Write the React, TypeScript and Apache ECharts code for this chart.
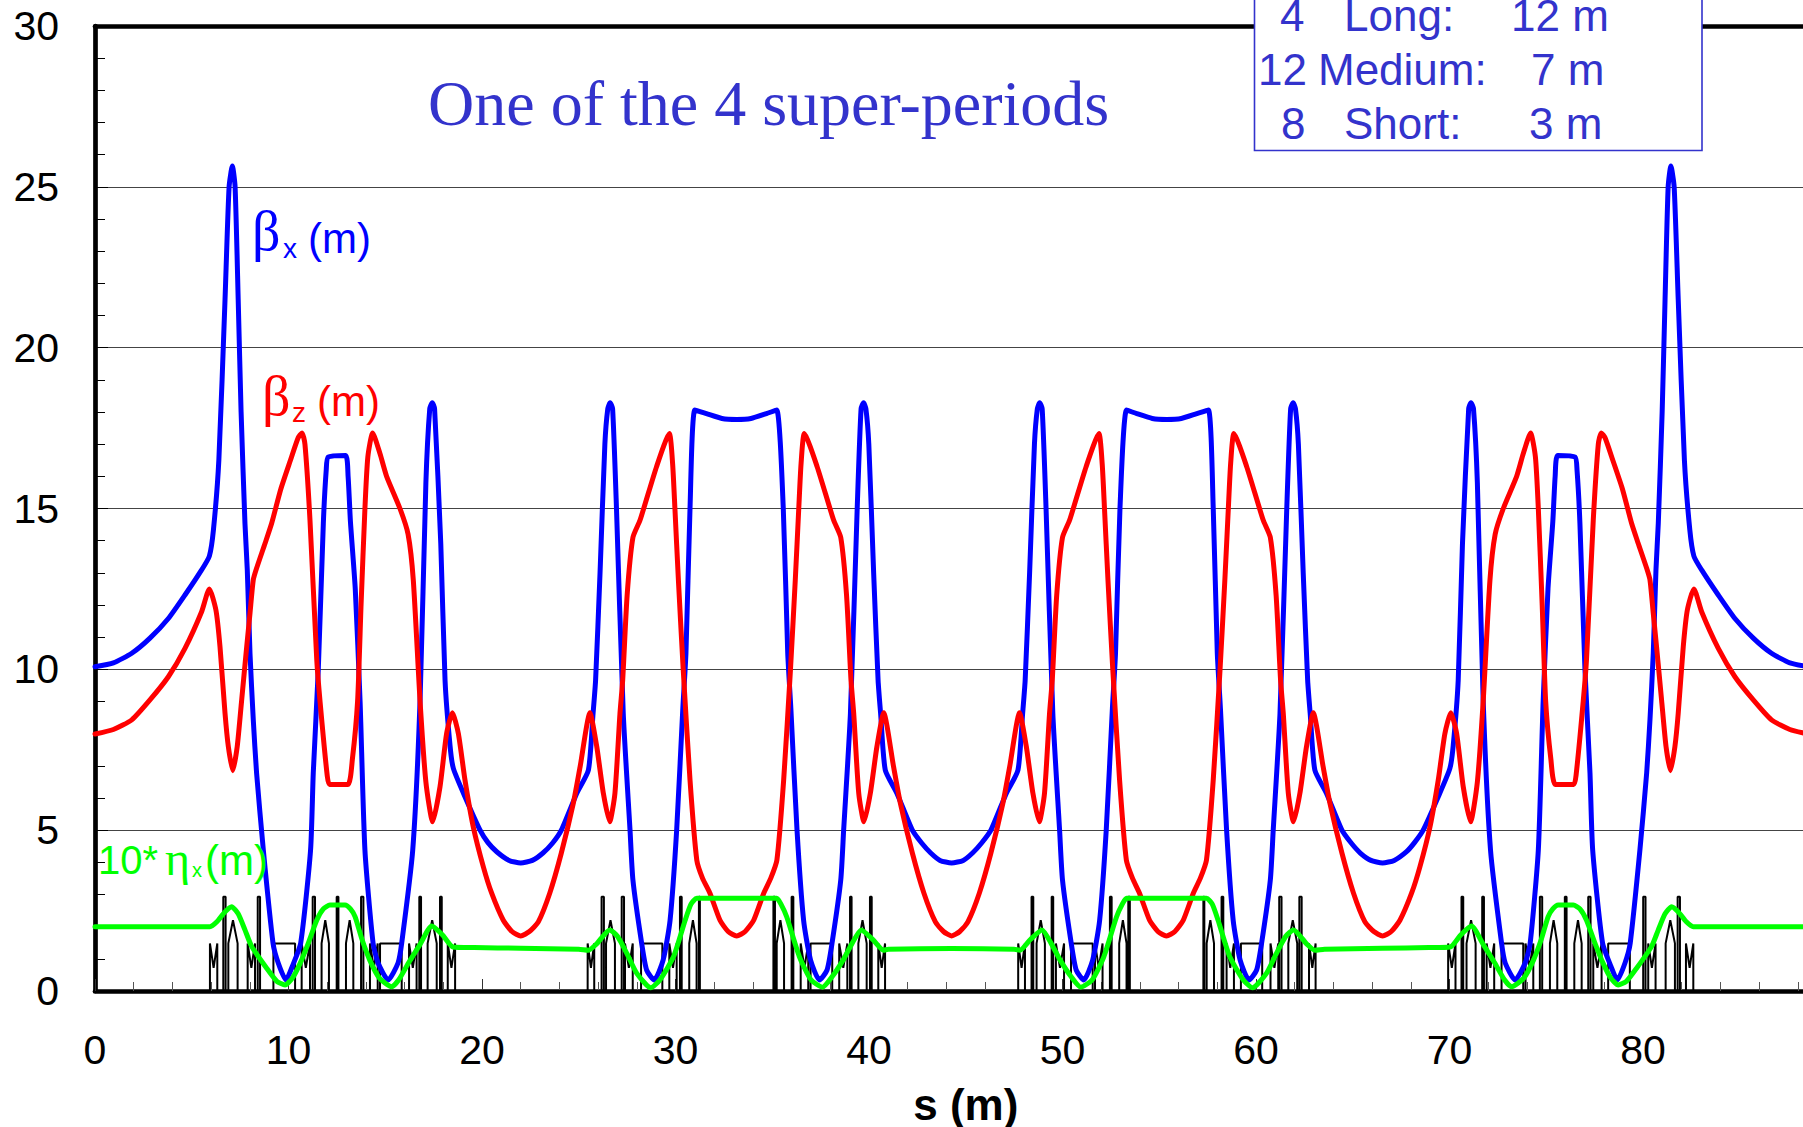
import React, { useEffect, useRef } from "react";
import * as echarts from "echarts";

const xTickStep = 10;
const yTickStep = 5;

const betaX: number[][] = [
  [0,10.08],[0.95,10.2],[1.9,10.5],[2.84,10.97],[3.79,11.58],[4.65,12.31],[5.51,13.09],[5.91,13.52],[6.12,14.33],[6.4,16.5],[6.72,21.5],[6.93,25],[7.1,25.65],[7.24,25],[7.4,21.5],[7.55,18],[7.75,14.54],[7.87,13.09],[8.01,10.5],[8.18,8.43],[8.35,6.78],[8.7,4.38],[9.2,1.49],[9.47,0.87],[9.87,0.34],[10.2,0.77],[10.63,1.49],[11.14,4.38],[11.28,6.78],[11.54,10],[11.8,14.54],[11.95,16.2],[12.05,16.6],[12.95,16.65],[13.08,16],[13.2,14.6],[13.45,12.5],[13.7,9],[13.95,4.38],[14.37,1.49],[14.63,0.87],[15.15,0.34],[15.66,0.87],[15.85,1.49],[16.42,4.38],[16.8,9.04],[17.1,15.8],[17.3,18.1],[17.43,18.29],[17.55,18.1],[17.87,13.9],[18.09,9.66],[18.35,7.62],[18.52,6.92],[19.12,6.04],[19.9,5],[20.3,4.62],[20.76,4.33],[21.4,4.06],[22,3.98],
  [22.6,4.06],[23.15,4.29],[23.65,4.6],[24.1,5],[24.9,6.15],[25.5,6.87],[25.74,8.63],[25.87,9.66],[26.1,13],[26.35,17],[26.5,18.1],[26.62,18.29],[26.75,18.1],[26.95,15],[27.3,8.63],[27.65,5],[27.8,3.45],[28.25,1.49],[28.51,0.65],[28.9,0.34],[29.36,0.96],[29.72,2.2],[30.06,5],[30.38,8.8],[30.54,10.5],[30.75,15],[31,18.06],[31.6,17.95],[32.4,17.8],[33.16,17.77],[33.9,17.8],[34.7,17.95],[35.23,18.06],[35.57,15],[35.8,10.5],[35.96,8.8],[36.28,5],[36.62,2.2],[36.98,0.96],[37.44,0.34],[37.83,0.65],[38.09,1.49],[38.54,3.45],[38.69,5],[39.04,8.63],[39.39,15],[39.59,18.1],[39.72,18.29],[39.84,18.1],[39.99,17],[40.24,13],[40.47,9.66],[40.6,8.63],[40.84,6.87],[41.44,6.15],[42.24,5],[42.72,4.6],[43.19,4.29],[43.67,4.06],[44.27,3.98],
  [44.87,4.06],[45.35,4.29],[45.82,4.6],[46.3,5],[47.1,6.15],[47.7,6.87],[47.94,8.63],[48.07,9.66],[48.3,13],[48.55,17],[48.7,18.1],[48.82,18.29],[48.95,18.1],[49.15,15],[49.5,8.63],[49.85,5],[50,3.45],[50.45,1.49],[50.71,0.65],[51.1,0.34],[51.56,0.96],[51.92,2.2],[52.26,5],[52.58,8.8],[52.74,10.5],[52.97,15],[53.31,18.06],[53.84,17.95],[54.64,17.8],[55.38,17.77],[56.14,17.8],[56.94,17.95],[57.54,18.06],[57.79,15],[58,10.5],[58.16,8.8],[58.48,5],[58.82,2.2],[59.18,0.96],[59.64,0.34],[60.03,0.65],[60.29,1.49],[60.74,3.45],[60.89,5],[61.24,8.63],[61.59,15],[61.79,18.1],[61.92,18.29],[62.04,18.1],[62.19,17],[62.44,13],[62.67,9.66],[62.8,8.63],[63.04,6.87],[63.64,6.15],[64.44,5],[64.92,4.6],[65.39,4.29],[65.94,4.06],[66.54,3.98],
  [67.14,4.06],[67.78,4.33],[68.2,4.62],[68.64,5],[69.42,6.04],[70.02,6.92],[70.19,7.62],[70.45,9.66],[70.67,13.9],[70.99,18.1],[71.11,18.29],[71.24,18.1],[71.44,15.8],[71.74,9.04],[72.12,4.38],[72.69,1.49],[72.88,0.87],[73.39,0.34],[73.91,0.87],[74.17,1.49],[74.59,4.38],[74.84,9],[75.09,12.5],[75.34,14.6],[75.46,16],[75.59,16.65],[76.49,16.6],[76.59,16.2],[76.74,14.54],[77,10],[77.26,6.78],[77.4,4.38],[77.91,1.49],[78.34,0.77],[78.67,0.34],[79.07,0.87],[79.34,1.49],[79.84,4.38],[80.19,6.78],[80.36,8.43],[80.53,10.5],[80.67,13.09],[80.79,14.54],[80.99,18],[81.14,21.5],[81.3,25],[81.44,25.65],[81.61,25],[81.82,21.5],[82.14,16.5],[82.42,14.33],[82.63,13.52],[83.03,13.09],[83.89,12.31],[84.75,11.58],[85.7,10.97],[86.64,10.5],[87.59,10.2],[88.54,10.08],
];

const betaZ: number[][] = [
  [0,7.99],[0.95,8.13],[1.9,8.43],[2.84,9.05],[3.79,9.77],[4.65,10.65],[5.51,11.79],[5.91,12.5],[6.25,11.84],[6.46,10.7],[6.72,8.63],[6.89,7.6],[7.12,6.85],[7.35,7.6],[7.58,9.05],[7.84,10.7],[8.01,11.74],[8.18,12.78],[8.35,13.14],[8.79,13.92],[9.13,14.54],[9.6,15.6],[10.1,16.5],[10.5,17.2],[10.7,17.35],[10.85,17],[11.11,14.64],[11.46,10.3],[11.63,9],[12,6.7],[12.12,6.42],[13.07,6.42],[13.3,7.2],[13.57,9],[13.75,12],[13.95,15],[14.1,16.6],[14.35,17.35],[14.73,16.7],[15.07,16],[15.76,15],[16.18,14.2],[16.45,12.77],[16.8,9],[17.1,6.5],[17.45,5.26],[17.83,6.35],[18.17,8],[18.47,8.65],[18.78,8],[19.12,6.56],[19.55,5.1],[20.07,3.86],[20.5,3.04],[21.1,2.2],[21.55,1.85],[22,1.71],
  [22.45,1.85],[22.91,2.15],[23.5,3.04],[24.1,4.29],[24.72,5.84],[25.07,6.97],[25.58,8.65],[25.93,7.6],[26.27,6.15],[26.6,5.26],[26.87,6.15],[27.13,8.63],[27.27,9.66],[27.5,12.3],[27.8,14.1],[28.17,14.64],[29.02,16.3],[29.68,17.33],[29.85,16.4],[29.97,15],[30.15,12.77],[30.4,9.98],[30.75,6.56],[31.1,4.07],[31.4,3.5],[31.78,3.04],[32.3,2.2],[32.72,1.85],[33.16,1.71],[33.6,1.85],[34.04,2.2],[34.56,3.04],[34.92,3.5],[35.24,4.07],[35.59,6.56],[35.94,9.98],[36.19,12.77],[36.37,15],[36.49,16.4],[36.66,17.33],[37.32,16.3],[38.17,14.64],[38.54,14.1],[38.84,12.3],[39.07,9.66],[39.21,8.63],[39.47,6.15],[39.74,5.26],[40.07,6.15],[40.41,7.6],[40.76,8.65],[41.27,6.97],[41.62,5.84],[42.24,4.29],[42.84,3.04],[43.43,2.15],[43.85,1.85],[44.27,1.71],
  [44.69,1.85],[45.11,2.15],[45.7,3.04],[46.3,4.29],[46.92,5.84],[47.27,6.97],[47.78,8.65],[48.13,7.6],[48.47,6.15],[48.8,5.26],[49.07,6.15],[49.33,8.63],[49.47,9.66],[49.7,12.3],[50,14.1],[50.37,14.64],[51.22,16.3],[51.88,17.33],[52.05,16.4],[52.17,15],[52.35,12.77],[52.6,9.98],[52.95,6.56],[53.3,4.07],[53.62,3.5],[53.98,3.04],[54.5,2.2],[54.93,1.85],[55.37,1.71],[55.81,1.85],[56.24,2.2],[56.76,3.04],[57.12,3.5],[57.44,4.07],[57.79,6.56],[58.14,9.98],[58.39,12.77],[58.57,15],[58.69,16.4],[58.86,17.33],[59.52,16.3],[60.37,14.64],[60.74,14.1],[61.04,12.3],[61.27,9.66],[61.41,8.63],[61.67,6.15],[61.94,5.26],[62.27,6.15],[62.61,7.6],[62.96,8.65],[63.47,6.97],[63.82,5.84],[64.44,4.29],[65.04,3.04],[65.63,2.15],[66.09,1.85],[66.54,1.71],
  [66.99,1.85],[67.44,2.2],[68.04,3.04],[68.47,3.86],[68.99,5.1],[69.42,6.56],[69.76,8],[70.07,8.65],[70.37,8],[70.71,6.35],[71.09,5.26],[71.44,6.5],[71.74,9],[72.09,12.77],[72.36,14.2],[72.78,15],[73.47,16],[73.81,16.7],[74.19,17.35],[74.44,16.6],[74.59,15],[74.79,12],[74.97,9],[75.24,7.2],[75.47,6.42],[76.42,6.42],[76.54,6.7],[76.91,9],[77.08,10.3],[77.43,14.64],[77.69,17],[77.84,17.35],[78.04,17.2],[78.44,16.5],[78.94,15.6],[79.41,14.54],[79.75,13.92],[80.19,13.14],[80.36,12.78],[80.53,11.74],[80.7,10.7],[80.96,9.05],[81.19,7.6],[81.42,6.85],[81.65,7.6],[81.82,8.63],[82.08,10.7],[82.29,11.84],[82.63,12.5],[83.03,11.79],[83.89,10.65],[84.75,9.77],[85.7,9.05],[86.64,8.43],[87.59,8.13],[88.54,7.99],
];

const etaX: number[][] = [
  [0,2],[5.94,2],[6.3,2.15],[6.7,2.45],[7.06,2.62],[7.4,2.4],[7.75,1.9],[8.1,1.38],[8.87,0.71],[9.4,0.3],[9.82,0.19],[10.2,0.4],[10.6,0.86],[11,1.45],[11.46,2.2],[11.8,2.55],[12.14,2.67],[12.92,2.67],[13.2,2.55],[13.44,2.31],[13.8,1.6],[14.2,0.96],[14.7,0.4],[15.33,0.13],[15.7,0.35],[16.2,0.87],[16.8,1.45],[17.4,2.02],[17.95,1.75],[18.5,1.37],[19.6,1.35],[22,1.33],[25,1.3],[25.5,1.27],[25.9,1.45],[26.6,1.9],[27,1.7],[27.5,1.15],[28,0.55],[28.72,0.1],[29.2,0.35],[29.9,1.07],[30.5,2.2],[30.8,2.7],[31.1,2.88],[35.23,2.88],[35.45,2.7],[35.75,2.3],[36.4,1.07],[37,0.35],[37.6,0.12],[38.1,0.45],[38.66,0.96],[39.1,1.45],[39.6,1.9],[40.2,1.6],[40.75,1.27],[41,1.3],[44.27,1.32],
  [47.5,1.3],[47.8,1.27],[48.34,1.6],[48.94,1.9],[49.44,1.45],[49.88,0.96],[50.44,0.45],[50.94,0.12],[51.54,0.35],[52.14,1.07],[52.79,2.3],[53.09,2.7],[53.31,2.88],[57.44,2.88],[57.74,2.7],[58.04,2.2],[58.64,1.07],[59.34,0.35],[59.82,0.1],[60.54,0.55],[61.04,1.15],[61.54,1.7],[61.94,1.9],[62.64,1.45],[63.04,1.27],[63.54,1.3],[66.54,1.33],[68.94,1.35],[70.04,1.37],[70.59,1.75],[71.14,2.02],[71.74,1.45],[72.34,0.87],[72.84,0.35],[73.21,0.13],[73.84,0.4],[74.34,0.96],[74.74,1.6],[75.1,2.31],[75.34,2.55],[75.62,2.67],[76.4,2.67],[76.74,2.55],[77.08,2.2],[77.54,1.45],[77.94,0.86],[78.34,0.4],[78.72,0.19],[79.14,0.3],[79.67,0.71],[80.44,1.38],[80.79,1.9],[81.14,2.4],[81.48,2.62],[81.84,2.45],[82.24,2.15],[82.6,2],[88.54,2],
];

// lattice elements: kind (M = sextupole pair, T = tall dipole, H = peaked quadrupole, R = flat quadrupole), from s, to s
const latticeElements: [string, number, number][] = [
  ["M",5.94,6.32],["T",6.63,6.75],["H",6.89,7.37],["M",7.89,8.27],["T",8.41,8.53],["R",9.22,10.34],["M",10.68,11.11],["T",11.25,11.37],["H",11.71,12.09],["T",12.49,12.58],["H",12.97,13.35],["T",13.75,13.87],["M",14.21,14.61],["R",14.73,15.85],["M",16.23,16.62],["T",16.76,16.85],["H",17.19,17.66],["T",17.83,17.92],["M",18.23,18.61],
  ["M",25.46,25.8],["T",26.18,26.3],["H",26.41,26.87],["T",27.22,27.34],["M",27.39,27.79],["R",28.22,29.32],["M",29.68,30.06],["T",30.23,30.32],["H",30.71,31.09],["T",31.21,31.26],["T",35.06,35.14],["H",35.23,35.61],["T",36,36.09],["M",36.47,36.86],["R",36.98,38.1],["M",38.46,38.88],["T",39.02,39.1],["H",39.45,39.88],["T",40.05,40.14],["M",40.48,40.83],
  ["M",47.71,48.06],["T",48.4,48.49],["H",48.66,49.09],["T",49.44,49.52],["M",49.66,50.08],["R",50.44,51.56],["M",51.68,52.07],["T",52.45,52.54],["H",52.93,53.31],["T",53.4,53.48],["T",57.28,57.33],["H",57.45,57.83],["T",58.22,58.31],["M",58.48,58.86],["R",59.22,60.32],["M",60.75,61.15],["T",61.2,61.32],["H",61.67,62.13],["T",62.24,62.36],["M",62.74,63.08],
  ["M",69.93,70.31],["T",70.62,70.71],["H",70.88,71.35],["T",71.69,71.78],["M",71.92,72.31],["R",72.69,73.81],["M",73.93,74.33],["T",74.67,74.79],["H",75.19,75.57],["T",75.96,76.05],["H",76.45,76.83],["T",77.17,77.29],["M",77.43,77.86],["R",78.2,79.32],["T",80.01,80.13],["M",80.27,80.65],["H",81.17,81.65],["T",81.79,81.91],["M",82.22,82.6],
];
const latticeLow = 1.48;
const latticeDip = 0.72;
const latticeTall = 2.93;
const latticePeak = 2.2;

function latticeLine(): number[][] {
  const pts: number[][] = [];
  for (const [kind, a, b] of latticeElements) {
    const mid = (a + b) / 2;
    pts.push([a, 0]);
    if (kind === "M") pts.push([a, latticeLow], [mid, latticeDip], [b, latticeLow]);
    if (kind === "T") pts.push([a, latticeTall], [b, latticeTall]);
    if (kind === "H") pts.push([a, latticeLow], [mid, latticePeak], [b, latticeLow]);
    if (kind === "R") pts.push([a, latticeLow], [b, latticeLow]);
    pts.push([b, 0]);
  }
  return pts;
}

const SANS = "Liberation Sans";
const SERIF = "Liberation Serif";
const BOX_BLUE = "#3333cc";

function label(text: string, x: number, y: number, fill: string, fontSize: number, fontFamily = SANS) {
  return {
    type: "text",
    x,
    y,
    z: 100,
    silent: true,
    style: { text, fill, fontSize, fontFamily, align: "left", verticalAlign: "middle" },
  };
}

export default function App() {
  const ref = useRef<HTMLDivElement>(null);
  useEffect(() => {
    document.body.style.margin = "0";
    document.body.style.overflow = "hidden";
    const chart = echarts.init(ref.current!, undefined, { renderer: "svg" });
    const lineBase = { type: "line", showSymbol: false, symbol: "none", silent: true, clip: false, animation: false };
    const curve = (color: string) => ({ color, width: 5, join: "round", cap: "round" });
    chart.setOption({
      animation: false,
      backgroundColor: "#ffffff",
      grid: { left: 95, top: 26, width: 1741.5, height: 965, outerBoundsMode: "none" },
      xAxis: [
        {
          type: "value",
          min: 0,
          max: 90,
          interval: xTickStep,
          position: "bottom",
          name: "s (m)",
          nameLocation: "middle",
          nameGap: 91,
          nameTextStyle: { fontFamily: SANS, fontSize: 44, fontWeight: "bold", color: "#000" },
          axisLine: { show: true, onZero: false, lineStyle: { color: "#000", width: 4.7 } },
          axisTick: { show: true, inside: true, length: 12, lineStyle: { color: "#333", width: 1 } },
          minorTick: { show: true, splitNumber: 5, length: 9, lineStyle: { color: "#555", width: 1 } },
          splitLine: { show: false },
          axisLabel: {
            margin: 38,
            fontFamily: SANS,
            fontSize: 41,
            color: "#000",
            showMaxLabel: false,
            formatter: (v: number) => (v >= 90 ? "" : String(v)),
          },
        },
        {
          type: "value",
          min: 0,
          max: 90,
          interval: xTickStep,
          position: "top",
          axisLine: { show: true, onZero: false, lineStyle: { color: "#000", width: 4.7 } },
          axisTick: { show: false },
          minorTick: { show: false },
          splitLine: { show: false },
          axisLabel: { show: false },
        },
      ],
      yAxis: {
        type: "value",
        min: 0,
        max: 30,
        interval: yTickStep,
        axisLine: { show: true, onZero: false, lineStyle: { color: "#000", width: 4.7 } },
        axisTick: { show: true, inside: true, length: 13, lineStyle: { color: "#000", width: 1 } },
        minorTick: { show: true, splitNumber: 5, length: 10, lineStyle: { color: "#000", width: 1 } },
        splitLine: { show: true, lineStyle: { color: "#444", width: 1 } },
        axisLabel: { margin: 36, fontFamily: SANS, fontSize: 41, color: "#000" },
      },
      series: [
        { ...lineBase, name: "lattice", data: latticeLine(), lineStyle: { color: "#000", width: 2 }, z: 2 },
        { ...lineBase, name: "beta x", data: betaX, smooth: 0.2, lineStyle: curve("#0000ff"), z: 3 },
        { ...lineBase, name: "beta z", data: betaZ, smooth: 0.2, lineStyle: curve("#ff0000"), z: 4 },
        { ...lineBase, name: "10*eta x", data: etaX, smooth: 0.2, lineStyle: curve("#00ff00"), z: 5 },
      ],
      graphic: [
        {
          type: "rect",
          z: 90,
          silent: true,
          shape: { x: 1254.5, y: -10, width: 447.5, height: 160.5 },
          style: { fill: "#ffffff", stroke: BOX_BLUE, lineWidth: 1.6 },
        },
        label("One of the 4 super-periods", 428, 103, BOX_BLUE, 64, SERIF),
        label("4", 1280, 15, BOX_BLUE, 44),
        label("Long:", 1344, 15, BOX_BLUE, 44),
        label("12 m", 1511, 15, BOX_BLUE, 44),
        label("12", 1258, 69, BOX_BLUE, 44),
        label("Medium:", 1318, 69, BOX_BLUE, 44),
        label("7 m", 1531, 69, BOX_BLUE, 44),
        label("8", 1281, 123, BOX_BLUE, 44),
        label("Short:", 1344, 123, BOX_BLUE, 44),
        label("3 m", 1529, 123, BOX_BLUE, 44),
        label("β", 252, 231, "#0000ff", 56, SERIF),
        label("x", 283, 248, "#0000ff", 28),
        label("(m)", 308, 238, "#0000ff", 42),
        label("β", 262, 396, "#ff0000", 56, SERIF),
        label("z", 292, 412, "#ff0000", 28),
        label("(m)", 317, 401, "#ff0000", 42),
        label("10*", 98, 860, "#00ff00", 40),
        label("η", 165, 858, "#00ff00", 48, SERIF),
        label("x", 192, 870, "#00ff00", 20),
        label("(m)", 205, 860, "#00ff00", 42),
      ],
    });
    return () => chart.dispose();
  }, []);
  return (
    <div style={{ position: "absolute", left: 0, top: 0, width: 1803, height: 1127, overflow: "hidden" }}>
      <div ref={ref} style={{ width: 1840, height: 1127 }} />
    </div>
  );
}
